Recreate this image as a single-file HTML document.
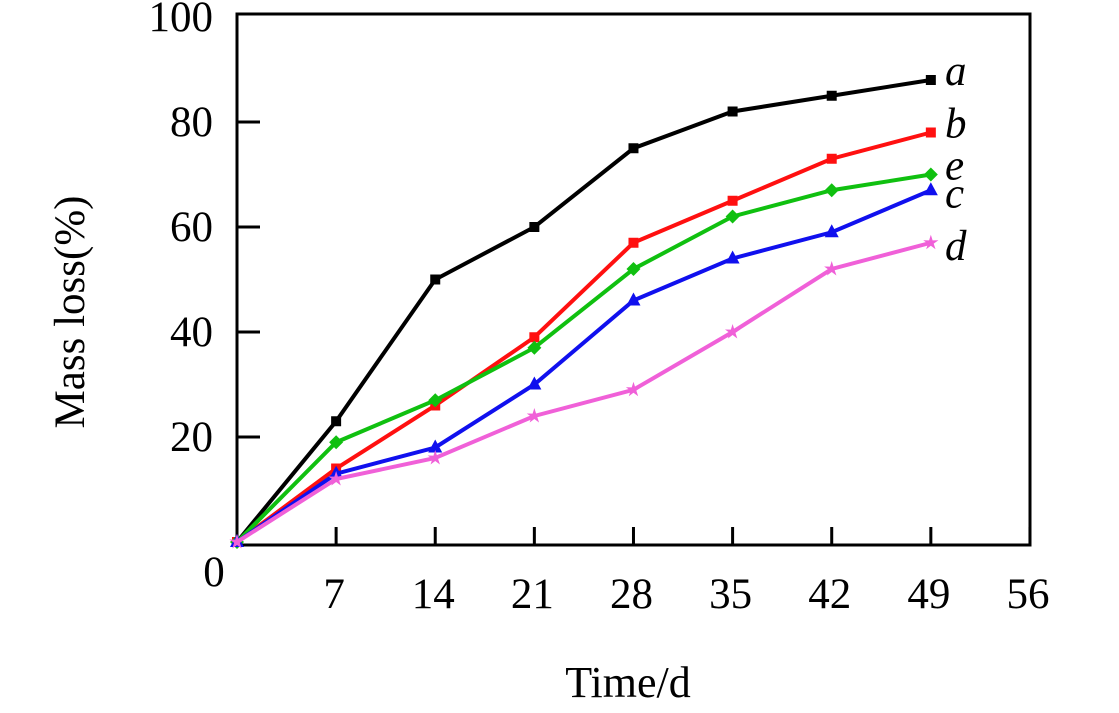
<!DOCTYPE html>
<html><head><meta charset="utf-8"><style>
body{margin:0;background:#fff}
svg text{font-family:"Liberation Serif",serif;fill:#000}
</style></head><body>
<svg id="chart" width="1119" height="708">
<rect x="237" y="14" width="793" height="531" fill="none" stroke="#000" stroke-width="3"/>
<g id="ax"></g><g id="series"></g>
<text transform="translate(84,312) rotate(-90)" text-anchor="middle" font-size="43">Mass loss(%)</text>
<text x="628" y="697" text-anchor="middle" font-size="44">Time/d</text>
<text x="214" y="586" text-anchor="middle" font-size="43">0</text>
</svg>
<script>
const days=[0,7,14,21,28,35,42,49];
const xTicks=[7,14,21,28,35,42,49,56];
const yTicks=[20,40,60,80,100];
const seriesNames=["a","b","e","c","d"];
const seriesColors=["#000000","#ff1010","#10c010","#1010ee","#f060d8"];
const valsA=[0,23,50,60,75,82,85,88];
const valsB=[0,14,26,39,57,65,73,78];
const valsE=[0,19,27,37,52,62,67,70];
const valsC=[0,13,18,30,46,54,59,67];
const valsD=[0,12,16,24,29,40,52,57];
const allVals=[valsA,valsB,valsE,valsC,valsD];
const labelOff=[-8,-8,-8,4,4];
const markerShapes=["square","square","diamond","triangle","star"];
const NS="http://www.w3.org/2000/svg";
const X=d=>237+d*14.16, Y=v=>542-v*5.25;
const ax=document.getElementById('ax'), sg=document.getElementById('series');
function mk(t,a,p){const e=document.createElementNS(NS,t);for(const k in a)e.setAttribute(k,a[k]);p.appendChild(e);return e;}
function shapePts(s,x,y){
 if(s==="diamond")return [[x,y-7],[x+7,y],[x,y+7],[x-7,y]];
 if(s==="triangle")return [[x,y-8],[x+7,y+5],[x-7,y+5]];
 if(s==="star"){const p=[];for(let k=0;k<10;k++){const r=k%2?3:8,a=-Math.PI/2+k*Math.PI/5;p.push([x+r*Math.cos(a),y+r*Math.sin(a)]);}return p;}
 return [[x-5,y-5],[x+5,y-5],[x+5,y+5],[x-5,y+5]];
}
xTicks.forEach(t=>{
 const l=mk('line',{x1:X(t),x2:X(t),y1:545,y2:527,stroke:'#000','stroke-width':3},ax);
 
 
 const tx=mk('text',{x:X(t)-2,y:608,'text-anchor':'middle','font-size':43},ax);tx.textContent=t;
 
 
});
yTicks.forEach(t=>{
 if(t<100){const l=mk('line',{x1:237,x2:260,y1:Y(t),y2:Y(t),stroke:'#000','stroke-width':3},ax);
 
 }
 const tx=mk('text',{x:213,y:Y(t)+14,'text-anchor':'end','font-size':43},ax);tx.textContent=t;
 
 
});
allVals.forEach((vals,i)=>{
 const c=seriesColors[i];
 const pl=mk('polyline',{points:vals.map((v,j)=>X(days[j])+','+Y(v)).join(' '),fill:'none',stroke:c,'stroke-width':4},sg);
 
 
 vals.forEach((v,j)=>{
  const m=mk('polygon',{points:shapePts(markerShapes[i],X(days[j]),Y(v)).map(p=>p.join(',')).join(' '),fill:c},sg);
  
  
 });
 const lb=mk('text',{x:945,y:Y(vals[vals.length-1])+labelOff[i]+13,'font-size':43,'font-style':'italic'},sg);
 lb.textContent=seriesNames[i];
 
 
});
</script>
</body></html>
